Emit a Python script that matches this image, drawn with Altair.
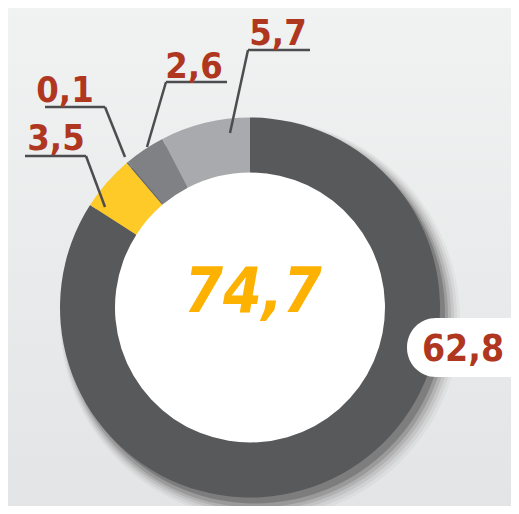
import altair as alt
import pandas as pd

# ---- data ----
segments = ["A", "B", "C", "D", "E"]
values = [62.8, 3.5, 0.1, 2.6, 5.7]
total_value = [74.7]

# ---- styling / layout (kept apart from the data) ----
seg_colors = ["#58595b", "#fdca28", "#6d6e71", "#808184", "#a9aaad"]
W, H = 503, 498
CX, CY = 242, 299.5
R_OUT, R_IN = 190, 135
FONT = "DejaVu Sans Condensed, sans-serif"
RED = "#b0371f"

label_layout = {
    "E": dict(tx=270, ty=37, hx1=240, hx2=302, hy=42, ex=222, ey=125, ox=240),
    "D": dict(tx=186, ty=70, hx1=158, hx2=219, hy=74, ex=139, ey=139, ox=158),
    "C": dict(tx=57, ty=94, hx1=37, hx2=97, hy=99, ex=117, ey=149, ox=97),
    "B": dict(tx=48, ty=142, hx1=17, hx2=78, hy=148, ex=97, ey=199, ox=78),
}

seg_df = pd.DataFrame({"seg": segments, "value": values, "order": range(len(values))})

lab_rows = []
for s, v in zip(segments, values):
    if s in label_layout:
        d = dict(label_layout[s])
        d["seg"] = s
        d["value"] = v
        lab_rows.append(d)
lab_df = pd.DataFrame(lab_rows)

fmt = "replace(format(datum.value, '.1f'), '.', ',')"

bg = alt.Chart(pd.DataFrame({"k": [0]})).mark_rect(
    color=alt.LinearGradient(
        gradient="linear", x1=0, x2=0, y1=0, y2=1,
        stops=[alt.GradientStop(color="#f1f2f2", offset=0),
               alt.GradientStop(color="#e3e4e5", offset=1)],
    )
).encode(x=alt.value(-10), x2=alt.value(W + 10), y=alt.value(-10), y2=alt.value(H + 10))

shadows = []
for r, dx, dy, op in [(200, 10, 12, 0.05), (198, 9, 11, 0.07), (196, 8, 10, 0.1),
                      (194, 7, 9, 0.14), (192, 6, 8, 0.22), (190, 5, 6, 0.35)]:
    shadows.append(
        alt.Chart(pd.DataFrame({"k": [0]})).mark_arc(
            radius=r, theta=0, theta2=6.2832, color="#4a4848", opacity=op
        ).encode(x=alt.value(CX + dx), y=alt.value(CY + dy))
    )

white = alt.Chart(pd.DataFrame({"k": [0]})).mark_arc(
    radius=R_IN + 1, theta=0, theta2=6.2832, color="white"
).encode(x=alt.value(CX), y=alt.value(CY))

ring = alt.Chart(seg_df).mark_arc(radius=R_OUT, radius2=R_IN, stroke=None).encode(
    theta=alt.Theta("value:Q", stack=True),
    order=alt.Order("order:Q"),
    color=alt.Color("seg:N", scale=alt.Scale(domain=segments, range=seg_colors), legend=None),
    x=alt.value(CX), y=alt.value(CY),
)

line_style = dict(color="#4d4d4f", strokeWidth=2.5)
hlines = alt.Chart(lab_df).mark_rule(**line_style).encode(
    x=alt.X("hx1:Q", scale=None), x2="hx2:Q",
    y=alt.Y("hy:Q", scale=None), y2="hy:Q",
)
dlines = alt.Chart(lab_df).mark_rule(**line_style).encode(
    x=alt.X("ox:Q", scale=None), x2="ex:Q",
    y=alt.Y("hy:Q", scale=None), y2="ey:Q",
)
labels = alt.Chart(lab_df).transform_calculate(txt=fmt).mark_text(
    font=FONT, fontSize=36, fontWeight="bold", color=RED, align="center", baseline="alphabetic"
).encode(x=alt.X("tx:Q", scale=None), y=alt.Y("ty:Q", scale=None), text="txt:N")

big_df = pd.DataFrame({"value": [values[0]]})
pill = alt.Chart(big_df).mark_rect(color="white", cornerRadius=29).encode(
    x=alt.value(399), x2=alt.value(W + 40), y=alt.value(310), y2=alt.value(369)
)
big_label = alt.Chart(big_df).transform_calculate(txt=fmt).mark_text(
    font=FONT, fontSize=37, fontWeight="bold", color=RED, align="center", baseline="alphabetic"
).encode(x=alt.value(455), y=alt.value(353), text="txt:N")

tot_df = pd.DataFrame({"value": total_value})
total = alt.Chart(tot_df).transform_calculate(txt=fmt).mark_text(
    font=FONT, fontSize=62, fontWeight="bold", fontStyle="italic", color="#fdb100",
    align="center", baseline="alphabetic"
).encode(x=alt.value(CX + 3), y=alt.value(304), text="txt:N")

chart = alt.layer(bg, *shadows, white, ring, hlines, dlines, labels, pill, big_label, total).properties(
    width=W, height=H, padding=0, autosize=alt.AutoSizeParams(type="none"),
    background="#ebeced",
).configure_view(stroke=None)

chart.save("out.html", embed_options={"renderer": "svg", "actions": False})
